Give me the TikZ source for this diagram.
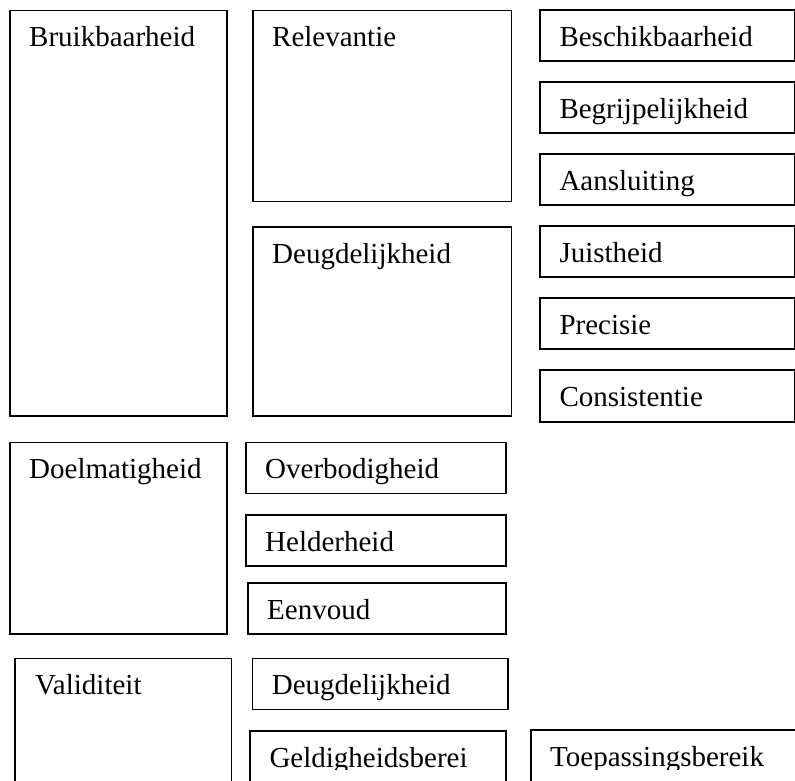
\documentclass[tikz,border=0pt]{standalone}
\usepackage{fontspec}
\setmainfont{Liberation Serif}
\usepackage{tikz}
\usetikzlibrary{positioning}
\tikzset{
  frame/.style={draw, line width=1.6pt, inner sep=0pt, anchor=north west},
  lbl/.style={inner sep=0pt, text height=20pt, text depth=7pt,
    font=\fontsize{29}{34}\selectfont},
}

\begin{document}
\begin{tikzpicture}[x=1pt,y=-1pt]
\clip (0,0) rectangle (795,780);

% Left column
\node[frame, minimum width=217, minimum height=405.5] (bruik) at (9,9.5) {};
\node[lbl, below right=17pt and 20pt of bruik.north west] (bruiktxt) {Bruikbaarheid};

% Middle column
\node[frame, minimum width=258.7, minimum height=191.2] (relev) at (252,9.5) {};
\node[lbl, below right=17pt and 20pt of relev.north west] (relevtxt) {Relevantie};

\node[frame, minimum width=258.7, minimum height=189] (deugd) at (252,226) {};
\node[lbl, below right=17pt and 20pt of deugd.north west] (deugdtxt) {Deugdelijkheid};

% Right column
\node[frame, minimum width=254.7, minimum height=51] (besch) at (539.3,9.3) {};
\node[lbl, below right=17pt and 20pt of besch.north west] (beschtxt) {Beschikbaarheid};

\node[frame, minimum width=254.7, minimum height=51] (begrip) at (539.3,81.3) {};
\node[lbl, below right=17pt and 20pt of begrip.north west] (begriptxt) {Begrijpelijkheid};

\node[frame, minimum width=254.7, minimum height=51] (aansl) at (539.3,153.3) {};
\node[lbl, below right=17pt and 20pt of aansl.north west] (aansltxt) {Aansluiting};

\node[frame, minimum width=254.7, minimum height=51] (juist) at (539.3,225.3) {};
\node[lbl, below right=17pt and 20pt of juist.north west] (juisttxt) {Juistheid};

\node[frame, minimum width=254.7, minimum height=51] (precis) at (539.3,297.3) {};
\node[lbl, below right=17pt and 20pt of precis.north west] (precistxt) {Precisie};

\node[frame, minimum width=254.7, minimum height=51.7] (consist) at (539.3,369.3) {};
\node[lbl, below right=17pt and 20pt of consist.north west] (consisttxt) {Consistentie};

% Doelmatigheid group
\node[frame, minimum width=217, minimum height=191.6] (doelm) at (9,441.7) {};
\node[lbl, below right=17pt and 20pt of doelm.north west] (doelmtxt) {Doelmatigheid};

\node[frame, minimum width=260, minimum height=51] (overb) at (245,441.7) {};
\node[lbl, below right=17pt and 20pt of overb.north west] (overbtxt) {Overbodigheid};

\node[frame, minimum width=260, minimum height=51] (helder) at (245,514) {};
\node[lbl, below right=17pt and 20pt of helder.north west] (heldertxt) {Helderheid};

\node[frame, minimum width=258, minimum height=51] (eenv) at (247,582.3) {};
\node[lbl, below right=17pt and 20pt of eenv.north west] (eenvtxt) {Eenvoud};

% Validiteit group
\node[frame, minimum width=216.7, minimum height=150] (valid) at (14,657.7) {};
\node[lbl, below right=17pt and 21pt of valid.north west] (validtxt) {Validiteit};

\node[frame, minimum width=255.6, minimum height=51] (deugdb) at (251.7,657.7) {};
\node[lbl, below right=17pt and 20pt of deugdb.north west] (deugdbtxt) {Deugdelijkheid};

\node[frame, minimum width=255.7, minimum height=80] (geldig) at (249.3,730) {};
\node[frame, minimum width=280, minimum height=80] (toep) at (530,729.3) {};

% bottom texts are cut off by their frames
\begin{scope}
\clip (0,0) rectangle (795,769);
\node[lbl, below right=17pt and 20pt of geldig.north west] (geldigtxt) {Geldigheidsberei};
\node[lbl, below right=17pt and 20pt of toep.north west] (toeptxt) {Toepassingsbereik};
\end{scope}
\end{tikzpicture}
\end{document}
